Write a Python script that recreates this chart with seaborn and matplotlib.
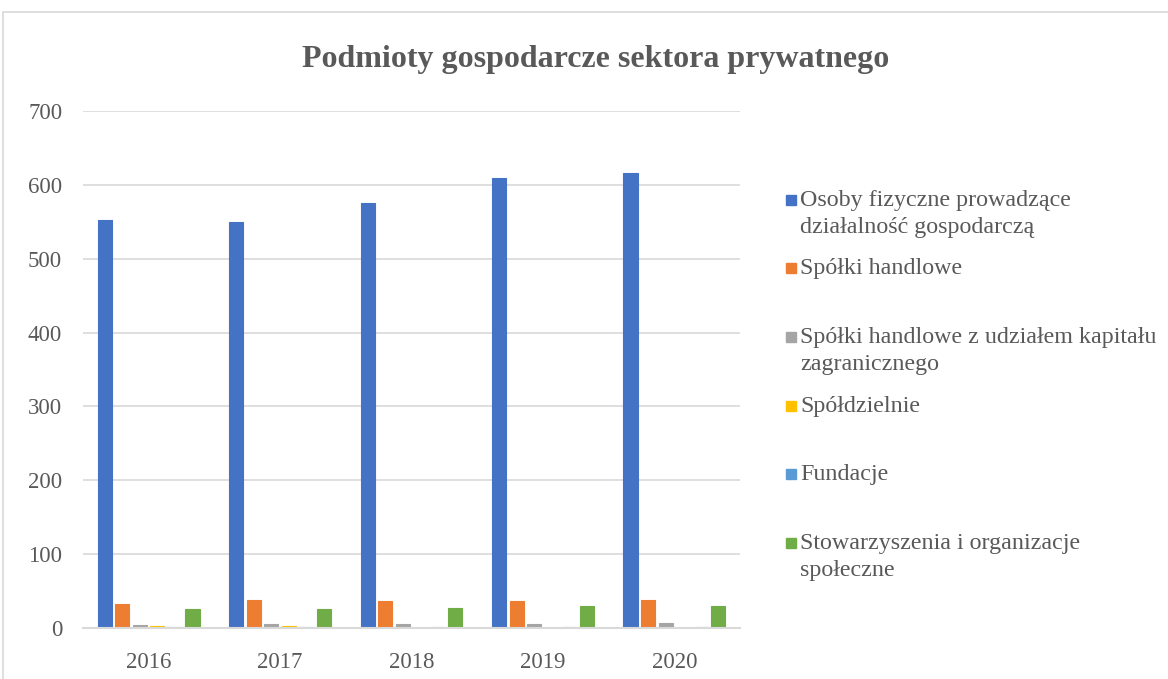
import numpy as np
import pandas as pd
import matplotlib
matplotlib.use("Agg")
import matplotlib.pyplot as plt
from matplotlib.patches import Rectangle
import seaborn as sns

years = ["2016", "2017", "2018", "2019", "2020"]
series = [
    "Osoby fizyczne prowadzące\ndziałalność gospodarczą",
    "Spółki handlowe",
    "Spółki handlowe z udziałem kapitału\nzagranicznego",
    "Spółdzielnie",
    "Fundacje",
    "Stowarzyszenia i organizacje\nspołeczne",
]
osoby = [553, 550, 576, 609, 616]
spolki = [32, 38, 37, 36, 38]
spolki_zagr = [4, 6, 6, 6, 7]
spoldzielnie = [3, 3, 0.5, 0.3, 0.3]
fundacje = [1, 1, 1, 2, 2]
stowarzyszenia = [26, 26, 27, 30, 30]
colors = ["#4472C4", "#ED7D31", "#A5A5A5", "#FFC000", "#5B9BD5", "#70AD47"]

values = [osoby, spolki, spolki_zagr, spoldzielnie, fundacje, stowarzyszenia]
df = pd.DataFrame({
    "rok": np.tile(years, len(series)),
    "seria": np.repeat(series, len(years)),
    "wartosc": np.concatenate(values),
})

sns.set_style("white")
plt.rcParams["font.family"] = ["Liberation Serif", "DejaVu Serif"]
txt = "#595959"

W, H = 1168, 679
fig = plt.figure(figsize=(W / 100, H / 100), dpi=100)
ax = fig.add_axes([83 / W, 1 - 628 / H, (740 - 83) / W, (628 - 111) / H])

sns.barplot(data=df, x="rok", y="wartosc", hue="seria", palette=colors,
            width=0.8, gap=0.2, ax=ax, legend=False, saturation=1)
# thin edge in the bar colour so tiny values stay visible
for p in ax.patches:
    p.set_edgecolor(p.get_facecolor())
    p.set_linewidth(0.8)

ax.set_ylim(0, 700)
ax.set_yticks(range(0, 701, 100))
ax.set_xlabel("")
ax.set_ylabel("")
ax.grid(axis="y", color="#D9D9D9", linewidth=1.2)
ax.set_axisbelow(True)
for s in ["left", "right", "top"]:
    ax.spines[s].set_visible(False)
ax.spines["bottom"].set_color("#D9D9D9")
ax.spines["bottom"].set_linewidth(1.5)
ax.tick_params(axis="y", length=0, pad=15, labelsize=16.5, labelcolor=txt)
ax.tick_params(axis="x", length=0, pad=17, labelsize=16.5, labelcolor=txt)

fig.text(596 / W, 1 - 59 / H, "Podmioty gospodarcze sektora prywatnego",
         ha="center", va="center", fontsize=23, fontweight="bold", color=txt)

# legend drawn in figure coordinates
first_lines = [200, 268, 337, 406, 474, 543]
for lab, col, yc in zip(series, colors, first_lines):
    fig.patches.append(Rectangle((786 / W, 1 - (yc + 5) / H), 10 / W, 10 / H,
                                 transform=fig.transFigure, color=col))
    fig.text(800 / W, 1 - (yc - 10) / H, lab, ha="left", va="top",
             fontsize=17.3, color=txt, linespacing=1.4)

# chart border
fig.patches.append(Rectangle((3 / W, -0.05), 1.1, 1 - 12 / H + 0.05,
                             transform=fig.transFigure, fill=False,
                             edgecolor="#D9D9D9", linewidth=1.2))

fig.savefig("out.png", dpi=100)
